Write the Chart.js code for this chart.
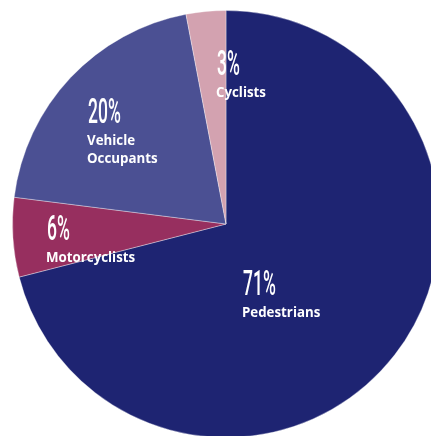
<!DOCTYPE html>
<html>
<head>
<meta charset="utf-8">
<script src="https://cdn.jsdelivr.net/npm/chart.js@4.4.1/dist/chart.umd.min.js"></script>
<style>
  html, body { margin: 0; padding: 0; background: #fff; overflow: hidden; width: 431px; height: 436px; }
  #wrap { position: absolute; left: 0; top: -2px; width: 452px; height: 452px; }
</style>
</head>
<body>
<div id="wrap"><canvas id="pieChart"></canvas></div>
<script>
// road deaths by user type
const categories = ["Pedestrians", "Motorcyclists", "Vehicle\nOccupants", "Cyclists"];
const shares = [71, 6, 20, 3];
const sliceColors = ["#1e2472", "#972f5f", "#4b5093", "#d3a2b0"];

// where each label block sits, measured from the pie centre (left x, baseline of the % figure)
const labelOffsets = [[17, 71], [-179, 16], [-138, -101], [-9, -149]];

const sliceLabels = {
  id: "sliceLabels",
  afterDatasetsDraw(chart) {
    const ctx = chart.ctx;
    const arcs = chart.getDatasetMeta(0).data;
    ctx.save();
    ctx.fillStyle = "#ffffff";
    ctx.textBaseline = "alphabetic";
    ctx.textAlign = "left";
    arcs.forEach((arc, i) => {
      const x = arc.x + labelOffsets[i][0];
      const y = arc.y + labelOffsets[i][1];

      // tall narrow percentage figure
      ctx.save();
      ctx.translate(x, y);
      ctx.scale(0.5, 1);
      ctx.font = "500 35px Roboto";
      ctx.fillText(shares[i] + "%", 0, 0);
      ctx.restore();

      ctx.font = "700 13.3px 'Open Sans'";
      categories[i].split("\n").forEach((line, j) => {
        ctx.fillText(line, x - 1, y + 22 + j * 18);
      });
    });
    ctx.restore();
  }
};

new Chart("pieChart", {
  type: "pie",
  data: {
    labels: categories,
    datasets: [{
      data: shares,
      backgroundColor: sliceColors,
      borderColor: "rgba(255,255,255,0.35)",
      borderWidth: 1
    }]
  },
  options: {
    responsive: true,
    maintainAspectRatio: false,
    animation: false,
    layout: { padding: 12 },
    plugins: {
      legend: { display: false },
      tooltip: { enabled: false }
    }
  },
  plugins: [sliceLabels]
});
</script>
</body>
</html>
